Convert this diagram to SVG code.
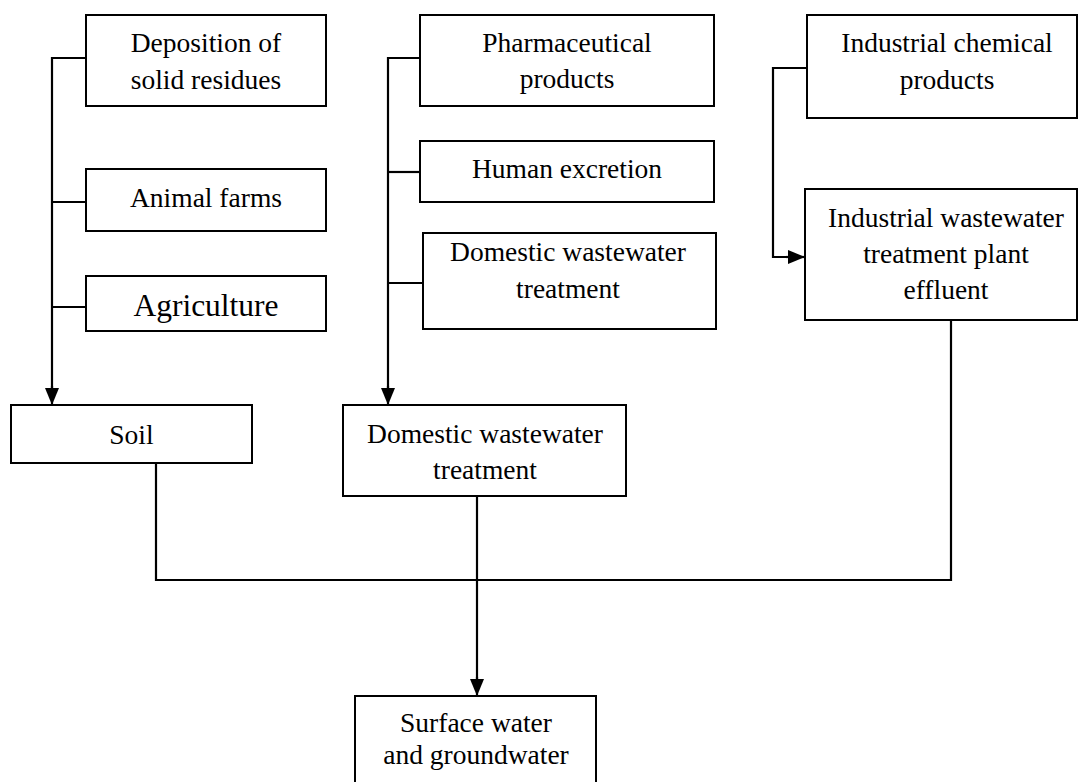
<svg xmlns="http://www.w3.org/2000/svg" width="1078" height="782" viewBox="0 0 1078 782">
<style>
.box{fill:#fff;stroke:#000;stroke-width:2}
.t{font-family:"Liberation Serif","Times New Roman",serif;font-size:27.5px;fill:#000;text-anchor:middle}
.big{font-size:31.5px}
.c{fill:none;stroke:#000;stroke-width:2.2}
</style>
<defs>
<marker id="ah" markerUnits="userSpaceOnUse" markerWidth="18" markerHeight="16" refX="17" refY="7" orient="auto">
<path d="M0,0 L17,7 L0,14 z" fill="#000"/>
</marker>
</defs>
<rect width="1078" height="782" fill="#fff"/>
<g id="connectors">
<path class="c" d="M86,58 H52 V390"/>
<path class="c" d="M52,386 V405" marker-end="url(#ah)"/>
<path class="c" d="M86,202 H52"/>
<path class="c" d="M86,307 H52"/>
<path class="c" d="M420,58 H388 V390"/>
<path class="c" d="M388,386 V405" marker-end="url(#ah)"/>
<path class="c" d="M420,172 H388"/>
<path class="c" d="M423,283 H388"/>
<path class="c" d="M807,68 H773 V257 H790"/>
<path class="c" d="M786,257 H805" marker-end="url(#ah)"/>
<path class="c" d="M156,463 V580 H951 V320"/>
<path class="c" d="M477,496 V681"/>
<path class="c" d="M477,677 V696" marker-end="url(#ah)"/>
</g>
<g id="n-deposition"><rect class="box" x="86" y="15" width="240" height="91"/><text class="t" x="206" y="52">Deposition of</text><text class="t" x="206" y="89">solid residues</text></g>
<g id="n-animal"><rect class="box" x="86" y="169" width="240" height="62"/><text class="t" x="206" y="207">Animal farms</text></g>
<g id="n-agri"><rect class="box" x="86" y="276" width="240" height="55"/><text class="t big" x="206" y="316">Agriculture</text></g>
<g id="n-pharma"><rect class="box" x="420" y="15" width="294" height="91"/><text class="t" x="567" y="52">Pharmaceutical</text><text class="t" x="567" y="88">products</text></g>
<g id="n-human"><rect class="box" x="420" y="141" width="294" height="61"/><text class="t" x="567" y="178">Human excretion</text></g>
<g id="n-domestic-up"><rect class="box" x="423" y="233" width="293" height="96"/><text class="t" x="568" y="261">Domestic wastewater</text><text class="t" x="568" y="298">treatment</text></g>
<g id="n-indchem"><rect class="box" x="807" y="15" width="270" height="103"/><text class="t" x="947" y="52">Industrial chemical</text><text class="t" x="947" y="89">products</text></g>
<g id="n-indww"><rect class="box" x="805" y="189" width="272" height="131"/><text class="t" x="946" y="227">Industrial wastewater</text><text class="t" x="946" y="263">treatment plant</text><text class="t" x="946" y="299">effluent</text></g>
<g id="n-soil"><rect class="box" x="11" y="405" width="241" height="58"/><text class="t" x="131.5" y="444">Soil</text></g>
<g id="n-domestic-low"><rect class="box" x="343" y="405" width="283" height="91"/><text class="t" x="485" y="443">Domestic wastewater</text><text class="t" x="485" y="479">treatment</text></g>
<g id="n-surface"><rect class="box" x="355" y="696" width="241" height="96"/><text class="t" x="476" y="732">Surface water</text><text class="t" x="476" y="764">and groundwater</text></g>
</svg>
